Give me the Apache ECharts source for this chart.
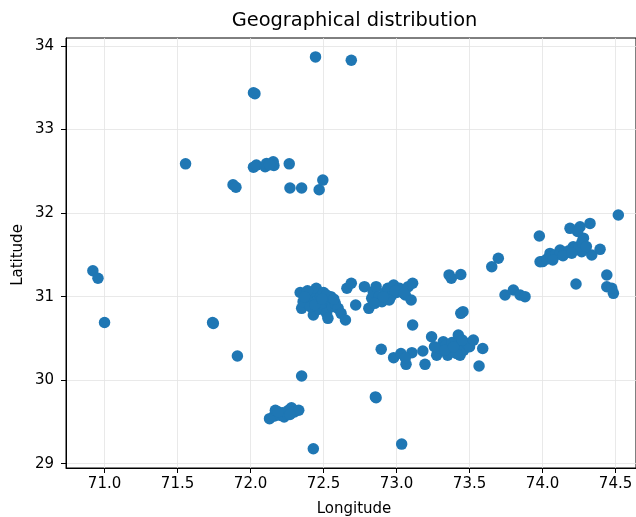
<!DOCTYPE html>
<html>
<head>
<meta charset="utf-8">
<script src="https://cdn.jsdelivr.net/npm/echarts@6/dist/echarts.min.js"></script>
<style>
  html, body { margin: 0; padding: 0; background: #fff; }
  #chart { width: 636px; height: 517px; }
</style>
</head>
<body>
<div id="chart"></div>
<script>
// Station longitudes / latitudes, listed pairwise in the same order
const longitudes = [
  72.445, 72.69, 72.02, 72.03, 71.555, 71.88, 71.90,
  72.02, 72.04, 72.10, 72.11, 72.155, 72.16, 72.13,
  72.265, 72.27, 72.35, 72.47, 72.495,
  70.92, 70.955, 71.0, 71.74, 71.745, 71.91,
  72.35, 72.43, 72.855, 72.86, 73.035,
  // southern group
  72.13, 72.16, 72.17, 72.20, 72.22, 72.23, 72.25, 72.26, 72.28, 72.30, 72.33, 72.19, 72.27,
  // central-west group
  72.34, 72.35, 72.38, 72.40, 72.42, 72.43, 72.44, 72.45, 72.46, 72.47, 72.48, 72.50, 72.50,
  72.52, 72.53, 72.54, 72.55, 72.56, 72.58, 72.60, 72.62, 72.65, 72.36, 72.41, 72.39, 72.52,
  72.66, 72.69, 72.72, 72.44, 72.49, 72.57, 72.37,
  // central-east group
  72.78, 72.81, 72.83, 72.84, 72.86, 72.88, 72.90, 72.92, 72.94, 72.96, 72.98, 73.00, 73.02,
  73.04, 73.06, 73.08, 73.10, 73.11, 72.85, 72.95, 72.91, 72.99, 73.05,
  // scattered middle points
  73.36, 73.375, 73.44, 73.44, 73.455, 73.11,
  72.895, 72.98, 73.03, 73.065, 73.105, 73.06, 73.18, 73.195,
  // south-east group
  73.24, 73.275, 73.32, 73.30, 73.34, 73.366, 73.38, 73.40, 73.423, 73.435, 73.44, 73.46, 73.48,
  73.50, 73.526, 73.59, 73.565, 73.26, 73.35, 73.41, 73.33, 73.45, 73.39,
  // north-east group
  73.652, 73.697, 73.743, 73.80, 73.846, 73.88, 73.978, 73.983, 74.051, 74.12, 74.188, 74.21,
  74.257, 74.268, 74.325, 74.337, 74.394, 74.519, 74.229, 74.44, 74.44, 74.485, 74.474,
  74.0, 74.03, 74.06, 74.09, 74.12, 74.15, 74.18, 74.22, 74.25, 74.27, 74.28, 74.24, 74.30,
  74.07, 74.14, 74.20
];
const latitudes = [
  33.87, 33.83, 33.44, 33.43, 32.59, 32.34, 32.31,
  32.55, 32.575, 32.555, 32.595, 32.615, 32.57, 32.58,
  32.59, 32.30, 32.30, 32.28, 32.395,
  31.31, 31.22, 30.69, 30.69, 30.68, 30.29,
  30.05, 29.18, 29.80, 29.79, 29.235,
  29.54, 29.57, 29.64, 29.58, 29.61, 29.56, 29.60, 29.64, 29.67, 29.62, 29.64, 29.62, 29.59,
  31.05, 30.86, 30.98, 31.02, 30.92, 30.78, 31.06, 31.10, 30.95, 30.85, 31.00, 31.05, 30.90,
  30.80, 30.74, 30.95, 31.00, 30.88, 30.92, 30.86, 30.80, 30.72, 30.94, 30.88, 31.07, 31.02,
  31.10, 31.16, 30.90, 30.90, 30.97, 30.97, 31.00,
  31.12, 30.86, 30.98, 31.06, 31.12, 31.00, 30.94, 31.05, 31.10, 31.00, 31.14, 31.05, 31.10,
  31.08, 31.02, 31.12, 30.96, 31.16, 30.92, 30.96, 31.00, 31.07, 31.04,
  31.26, 31.22, 31.265, 30.80, 30.82, 30.66,
  30.37, 30.27, 30.32, 30.19, 30.33, 30.27, 30.35, 30.19,
  30.52, 30.30, 30.46, 30.38, 30.42, 30.34, 30.45, 30.38, 30.54, 30.30, 30.42, 30.36, 30.44,
  30.40, 30.48, 30.38, 30.17, 30.40, 30.30, 30.32, 30.36, 30.48, 30.40,
  31.358, 31.459, 31.02, 31.08, 31.02, 31.0, 31.726, 31.418, 31.518, 31.558, 31.818, 31.597,
  31.837, 31.538, 31.877, 31.498, 31.566, 31.977, 31.151, 31.259, 31.119, 31.04, 31.10,
  31.42, 31.45, 31.47, 31.50, 31.52, 31.53, 31.55, 31.57, 31.60, 31.65, 31.70, 31.78, 31.60,
  31.44, 31.49, 31.52
];
const xTicks = [71.0, 71.5, 72.0, 72.5, 73.0, 73.5, 74.0, 74.5];
const yTicks = [29, 30, 31, 32, 33, 34];

const points = longitudes.map((lon, i) => [lon, latitudes[i]]);

const FONT = 'DejaVu Sans';
const chart = echarts.init(document.getElementById('chart'), null, { renderer: 'canvas' });

chart.setOption({
  animation: false,
  backgroundColor: '#fff',
  textStyle: { fontFamily: FONT },
  grid: {
    left: 66, top: 38, right: -3, bottom: 49,
    show: true, borderColor: '#000', borderWidth: 1, backgroundColor: 'transparent'
  },
  graphic: [
    { type: 'text', x: 354.5, y: 21,
      style: { text: 'Geographical distribution', font: '19.4px "DejaVu Sans"', fill: '#000',
               align: 'center', verticalAlign: 'middle' } },
    { type: 'text', x: 354, y: 502,
      style: { text: 'Longitude', font: '15px "DejaVu Sans"', fill: '#000', align: 'center', verticalAlign: 'top' } },
    { type: 'text', x: 11, y: 255, rotation: Math.PI / 2,
      style: { text: 'Latitude', font: '15px "DejaVu Sans"', fill: '#000', align: 'center', verticalAlign: 'top' } }
  ],
  xAxis: {
    type: 'value',
    min: 70.736, max: 74.64,
    axisLine: { show: true, onZero: false, lineStyle: { color: '#000', width: 1 } },
    axisTick: { show: true, length: 5, lineStyle: { color: '#000' }, customValues: xTicks },
    axisLabel: {
      customValues: xTicks, margin: 9, color: '#000', fontSize: 15, fontFamily: FONT,
      formatter: v => Number(v).toFixed(1)
    },
    splitLine: { show: true, lineStyle: { color: '#e3e3e3', width: 0.8 } }
  },
  yAxis: {
    type: 'value',
    min: 28.949, max: 34.096,
    axisLine: { show: true, onZero: false, lineStyle: { color: '#000', width: 1 } },
    axisTick: { show: true, length: 5, lineStyle: { color: '#000' }, customValues: yTicks },
    axisLabel: {
      customValues: yTicks, margin: 12, color: '#000', fontSize: 15, fontFamily: FONT,
      formatter: v => String(Math.round(v))
    },
    splitLine: { show: true, lineStyle: { color: '#e3e3e3', width: 0.8 } }
  },
  series: [{
    type: 'scatter',
    data: points,
    symbolSize: 11.5,
    itemStyle: { color: '#1f77b4', opacity: 1 }
  }]
});
</script>
</body>
</html>
